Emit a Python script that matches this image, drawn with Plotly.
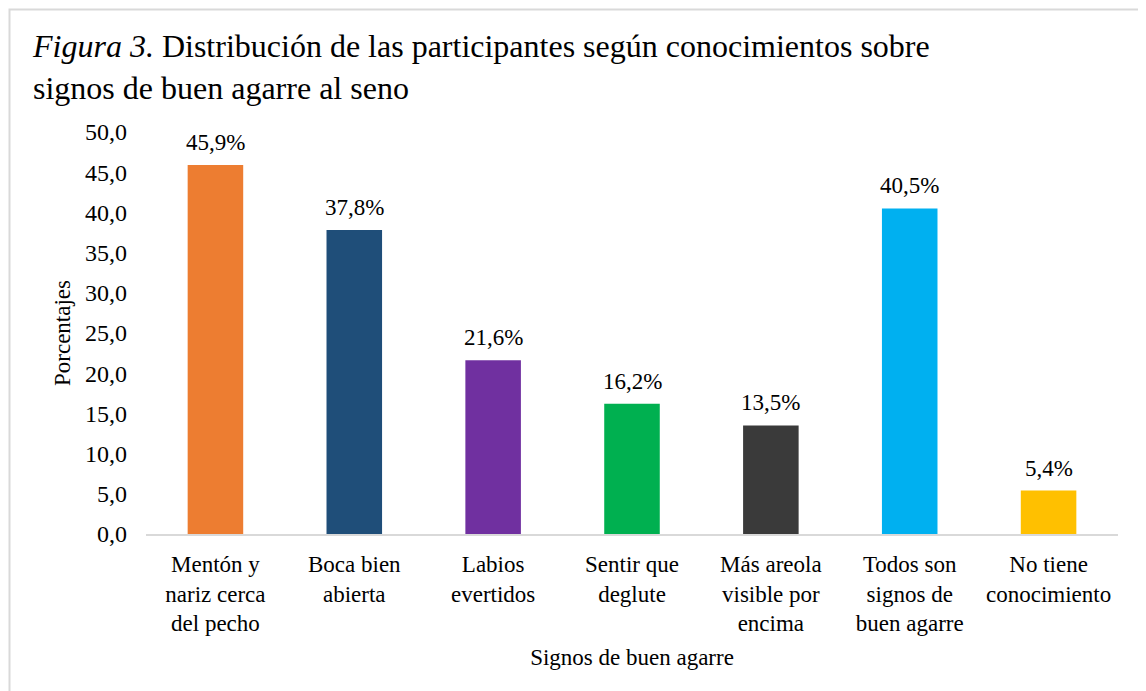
import plotly.graph_objects as go

# Data
categorias = ['Mentón y<br>nariz cerca<br>del pecho', 'Boca bien<br>abierta', 'Labios<br>evertidos',
              'Sentir que<br>deglute', 'Más areola<br>visible por<br>encima',
              'Todos son<br>signos de<br>buen agarre', 'No tiene<br>conocimiento']
porcentajes = [45.9, 37.8, 21.6, 16.2, 13.5, 40.5, 5.4]
colores = ['#ED7D31', '#1F4E79', '#7030A0', '#00B050', '#3A3A3A', '#00B0F0', '#FFC000']

FONT = 'Liberation Serif, Times New Roman, serif'
W, H = 1138, 683  # page body adds 8px margin
L, R, T, B = 138, 28, 124, 157
PW, PH = W - L - R, H - T - B

fig = go.Figure()
fig.add_trace(
    go.Bar(x=categorias,
           y=porcentajes,
           marker=dict(color=colores, line=dict(width=0)),
           hoverinfo='x+y'))

# etiquetas de datos
for cat, val in zip(categorias, porcentajes):
    fig.add_annotation(x=cat, y=val, text=f'{val:.1f}%'.replace('.', ','),
                       showarrow=False, yanchor='bottom', yshift=8,
                       font=dict(size=23, family=FONT, color='#000000'))

fig.update_layout(
    width=W, height=H,
    separators=',.',
    font=dict(family=FONT, color='#000000', size=23),
    paper_bgcolor='white', plot_bgcolor='white',
    margin=dict(l=L, r=R, t=T, b=B),
    bargap=0.6,
    showlegend=False,
    title=dict(text='<i>Figura 3.</i> Distribución de las participantes según conocimientos sobre<br>signos de buen agarre al seno',
               x=25 / W, xanchor='left', xref='container',
               y=1 - 49 / H, yanchor='top', yref='container',
               font=dict(size=32, family=FONT, color='#000000')),
    xaxis=dict(showline=True, linecolor='#D9D9D9', linewidth=2,
               ticks='', tickangle=0, tickfont=dict(size=23), ticklabelstandoff=8,
               title=dict(text='Signos de buen agarre', font=dict(size=23), standoff=13)),
    yaxis=dict(range=[0, 50], dtick=5, tickformat='.1f',
               showgrid=False, zeroline=False, showline=False,
               ticks='', ticklabelstandoff=18, tickfont=dict(size=24),
               title=dict(text='Porcentajes', font=dict(size=23), standoff=7)),
    shapes=[dict(type='rect', xref='paper', yref='paper',
                 x0=-(L - 1.5) / PW, x1=1 + 60 / PW,
                 y0=-(B + 60) / PH, y1=1 + (T - 1.5) / PH,
                 line=dict(color='#D9D9D9', width=2), fillcolor='rgba(0,0,0,0)',
                 layer='below')],
)

fig.write_html('out.html')
